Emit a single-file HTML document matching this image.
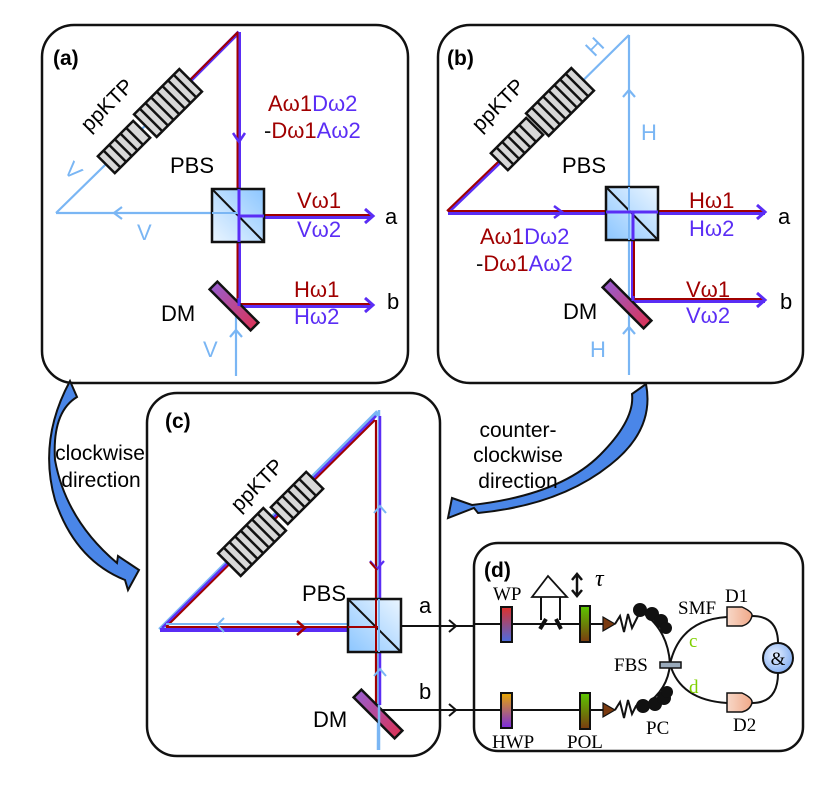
<!DOCTYPE html>
<html><head><meta charset="utf-8"><style>
html,body{margin:0;padding:0;background:#fff;}
svg{display:block;}
text{font-family:"Liberation Sans",sans-serif;}
.s{font-family:"Liberation Serif",serif;}
</style></head><body>
<svg width="831" height="786" viewBox="0 0 831 786" xmlns="http://www.w3.org/2000/svg">
<defs>
<linearGradient id="pbs" x1="1" y1="0" x2="0" y2="1"><stop offset="0" stop-color="#8cc6ff"/><stop offset="1" stop-color="#eaf5ff"/></linearGradient>
<linearGradient id="pbs2" x1="0" y1="1" x2="1" y2="0"><stop offset="0" stop-color="#8cc6ff"/><stop offset="1" stop-color="#eaf5ff"/></linearGradient>
<linearGradient id="dm" x1="0" y1="0" x2="1" y2="0"><stop offset="0" stop-color="#9a5ccc"/><stop offset="1" stop-color="#d8345a"/></linearGradient>
<linearGradient id="wp" x1="0" y1="0" x2="0" y2="1"><stop offset="0" stop-color="#e0302a"/><stop offset="1" stop-color="#4a6ce0"/></linearGradient>
<linearGradient id="hwp" x1="0" y1="0" x2="0" y2="1"><stop offset="0" stop-color="#e8a800"/><stop offset="1" stop-color="#7a2ae0"/></linearGradient>
<linearGradient id="pol" x1="0" y1="0" x2="0" y2="1"><stop offset="0" stop-color="#5cc800"/><stop offset="1" stop-color="#7a3a10"/></linearGradient>
<linearGradient id="det" x1="0" y1="0" x2="1" y2="0"><stop offset="0" stop-color="#f8d8c8"/><stop offset="1" stop-color="#f0a888"/></linearGradient>
<radialGradient id="amp" cx="0.4" cy="0.4" r="0.7"><stop offset="0" stop-color="#e8f0ff"/><stop offset="1" stop-color="#7aa8f0"/></radialGradient>
<g id="bigc"><rect x="-32" y="-16" width="64" height="32" fill="#d8d8d8" stroke="#111" stroke-width="2.5"/>
<g stroke="#111" stroke-width="2.5"><line x1="-24" y1="-16" x2="-24" y2="16"/><line x1="-16" y1="-16" x2="-16" y2="16"/><line x1="-8" y1="-16" x2="-8" y2="16"/><line x1="0" y1="-16" x2="0" y2="16"/><line x1="8" y1="-16" x2="8" y2="16"/><line x1="16" y1="-16" x2="16" y2="16"/><line x1="24" y1="-16" x2="24" y2="16"/></g></g>
<g id="smc"><rect x="-25" y="-12" width="50" height="24" fill="#d8d8d8" stroke="#111" stroke-width="2.5"/>
<g stroke="#111" stroke-width="2.5"><line x1="-17" y1="-12" x2="-17" y2="12"/><line x1="-9" y1="-12" x2="-9" y2="12"/><line x1="-1" y1="-12" x2="-1" y2="12"/><line x1="7" y1="-12" x2="7" y2="12"/><line x1="15" y1="-12" x2="15" y2="12"/></g></g>
<g id="dmr"><rect x="-29" y="-5.5" width="58" height="11" fill="url(#dm)" stroke="#111" stroke-width="2.5"/></g>
</defs>

<!-- ===== Panel (a) ===== -->
<rect x="42" y="25" width="366" height="358" rx="32" fill="#fff" stroke="#111" stroke-width="2.5"/>
<text x="53" y="65" font-size="21" font-weight="bold">(a)</text>
<g stroke="#7ab6f4" stroke-width="2.2" fill="none">
<line x1="150" y1="121" x2="56" y2="213"/>
<line x1="56" y1="213" x2="238" y2="213"/>
<polyline points="122,207 114,213 122,219"/>
<line x1="236" y1="308" x2="236" y2="376"/>
<polyline points="230,337 236,330 242,337"/>
</g>
<g fill="none">
<line x1="239" y1="32" x2="188" y2="83" stroke="#5a2df5" stroke-width="4"/>
<line x1="238" y1="32" x2="187" y2="83" stroke="#a00000" stroke-width="2"/>
<line x1="239" y1="32" x2="239" y2="305" stroke="#5a2df5" stroke-width="4"/>
<line x1="237.5" y1="32" x2="237.5" y2="305" stroke="#a00000" stroke-width="2"/>
<line x1="239" y1="217" x2="372" y2="217" stroke="#5a2df5" stroke-width="4"/>
<line x1="239" y1="215" x2="372" y2="215" stroke="#a00000" stroke-width="2"/>
<line x1="239" y1="306" x2="372" y2="306" stroke="#5a2df5" stroke-width="4"/>
<line x1="239" y1="304" x2="372" y2="304" stroke="#a00000" stroke-width="2"/>
<polyline points="233,133 239,142 245,133" stroke="#5a2df5" stroke-width="2.5"/>
<polyline points="365,209 373,216 365,223" stroke="#5a2df5" stroke-width="3"/>
<polyline points="365,298 373,305 365,312" stroke="#5a2df5" stroke-width="3"/>
</g>
<use href="#bigc" transform="translate(168,103) rotate(-45)"/>
<use href="#smc" transform="translate(124,147) rotate(-45)"/>
<text transform="translate(112,110) rotate(-45)" font-size="21" text-anchor="middle">ppKTP</text>
<rect x="212" y="189" width="52" height="53" fill="url(#pbs)" stroke="#111" stroke-width="2.5"/>
<line x1="212" y1="189" x2="264" y2="242" stroke="#111" stroke-width="2"/>
<line x1="239" y1="189" x2="239" y2="242" stroke="#5a2df5" stroke-width="3"/>
<line x1="239" y1="216" x2="264" y2="216" stroke="#5a2df5" stroke-width="3"/>
<line x1="212" y1="213" x2="238" y2="213" stroke="#7ab6f4" stroke-width="2"/>
<use href="#dmr" transform="translate(234,306) rotate(45)"/>
<line x1="239" y1="298" x2="239" y2="306" stroke="#5a2df5" stroke-width="3"/>
<g font-size="22">
<text x="268" y="111"><tspan fill="#a00000">Aω1</tspan><tspan fill="#5a2df5">Dω2</tspan></text>
<text x="264" y="138"><tspan fill="#111">-</tspan><tspan fill="#a00000">Dω1</tspan><tspan fill="#5a2df5">Aω2</tspan></text>
<text x="170" y="173">PBS</text>
<text x="297" y="208" fill="#a00000">Vω1</text>
<text x="297" y="237" fill="#5a2df5">Vω2</text>
<text x="385" y="224">a</text>
<text x="294" y="297" fill="#a00000">Hω1</text>
<text x="294" y="324" fill="#5a2df5">Hω2</text>
<text x="387" y="309">b</text>
<text x="161" y="321">DM</text>
<text x="137" y="240" fill="#7ab6f4">V</text>
<text x="203" y="357" fill="#7ab6f4">V</text>
<text transform="translate(68,176) rotate(45)" fill="#7ab6f4" text-anchor="middle">V</text>
</g>

<!-- ===== Panel (b) ===== -->
<rect x="438" y="25" width="365" height="358" rx="32" fill="#fff" stroke="#111" stroke-width="2.5"/>
<text x="447" y="65" font-size="21" font-weight="bold">(b)</text>
<g stroke="#7ab6f4" stroke-width="2.2" fill="none">
<line x1="629" y1="35" x2="540" y2="123"/>
<line x1="629" y1="35" x2="629" y2="375"/>
<polyline points="623,97 629,90 635,97"/>
<polyline points="623,334 629,327 635,334"/>
</g>
<g fill="none">
<line x1="500" y1="162" x2="448" y2="212" stroke="#5a2df5" stroke-width="4"/>
<line x1="498" y1="162" x2="447" y2="211" stroke="#a00000" stroke-width="2"/>
<line x1="448" y1="213" x2="765" y2="213" stroke="#5a2df5" stroke-width="4"/>
<line x1="448" y1="211" x2="765" y2="211" stroke="#a00000" stroke-width="2"/>
<polyline points="554,206 562,212 554,218" stroke="#5a2df5" stroke-width="2.5"/>
<polyline points="757,205 765,212 757,219" stroke="#5a2df5" stroke-width="3"/>
<line x1="633" y1="212" x2="633" y2="301" stroke="#5a2df5" stroke-width="4"/>
<line x1="634" y1="212" x2="634" y2="301" stroke="#a00000" stroke-width="2"/>
<line x1="633" y1="301" x2="765" y2="301" stroke="#5a2df5" stroke-width="4"/>
<line x1="633" y1="299" x2="765" y2="299" stroke="#a00000" stroke-width="2"/>
<polyline points="757,293 765,300 757,307" stroke="#5a2df5" stroke-width="3"/>
</g>
<use href="#bigc" transform="translate(560,102) rotate(-45)"/>
<use href="#smc" transform="translate(517,144) rotate(-45)"/>
<text transform="translate(503,110) rotate(-45)" font-size="21" text-anchor="middle">ppKTP</text>
<rect x="606" y="187" width="52" height="53" fill="url(#pbs2)" stroke="#111" stroke-width="2.5"/>
<line x1="606" y1="187" x2="658" y2="240" stroke="#111" stroke-width="2"/>
<line x1="629" y1="187" x2="629" y2="240" stroke="#7ab6f4" stroke-width="2"/>
<line x1="606" y1="212" x2="658" y2="212" stroke="#5a2df5" stroke-width="3"/>
<line x1="633" y1="212" x2="633" y2="240" stroke="#5a2df5" stroke-width="3"/>
<use href="#dmr" transform="translate(627,304) rotate(45)"/>
<line x1="633" y1="296" x2="633" y2="301" stroke="#5a2df5" stroke-width="3"/>
<g font-size="22">
<text x="562" y="173">PBS</text>
<text x="689" y="208" fill="#a00000">Hω1</text>
<text x="689" y="236" fill="#5a2df5">Hω2</text>
<text x="778" y="224">a</text>
<text x="480" y="244"><tspan fill="#a00000">Aω1</tspan><tspan fill="#5a2df5">Dω2</tspan></text>
<text x="476" y="271"><tspan fill="#111">-</tspan><tspan fill="#a00000">Dω1</tspan><tspan fill="#5a2df5">Aω2</tspan></text>
<text x="686" y="297" fill="#a00000">Vω1</text>
<text x="686" y="323" fill="#5a2df5">Vω2</text>
<text x="780" y="309">b</text>
<text x="563" y="319">DM</text>
<text x="641" y="140" fill="#7ab6f4">H</text>
<text x="590" y="357" fill="#7ab6f4">H</text>
<text transform="translate(600,52) rotate(-45)" fill="#7ab6f4" text-anchor="middle">H</text>
</g>

<!-- curved arrows -->
<path d="M 70,381 L 77,397 Q 52,412 55,460 Q 66,520 117,563 L 118,556 L 139,570 L 128,590 L 125,580 Q 75,560 55,500 Q 38,440 70,381 Z" fill="#4a86e8" stroke="#111" stroke-width="2"/>
<path d="M 632,394 L 646,384 Q 655,430 610,465 Q 560,505 478,513 L 474,508 L 448,518 L 452,498 L 472,505 Q 560,495 600,455 Q 635,420 632,394 Z" fill="#4a86e8" stroke="#111" stroke-width="2"/>
<g font-size="21" text-anchor="middle">
<text x="100" y="460">clockwise</text>
<text x="101" y="487">direction</text>
<text x="518" y="437">counter-</text>
<text x="518" y="462">clockwise</text>
<text x="518" y="488">direction</text>
</g>

<!-- ===== Panel (c) ===== -->
<rect x="147" y="393" width="293" height="363" rx="30" fill="#fff" stroke="#111" stroke-width="2.5"/>
<text x="165" y="428" font-size="21" font-weight="bold">(c)</text>
<g fill="none">
<line x1="379" y1="410" x2="378" y2="750" stroke="#7ab6f4" stroke-width="2.5"/>
<line x1="378" y1="412" x2="160" y2="630" stroke="#7ab6f4" stroke-width="5"/>
<line x1="376" y1="416" x2="162" y2="628" stroke="#5a2df5" stroke-width="2.5"/>
<line x1="375" y1="420" x2="166" y2="627" stroke="#a00000" stroke-width="2"/>
<line x1="160" y1="630" x2="378" y2="630" stroke="#5a2df5" stroke-width="4"/>
<line x1="166" y1="627" x2="378" y2="627" stroke="#a00000" stroke-width="2"/>
<line x1="166" y1="624" x2="378" y2="624" stroke="#7ab6f4" stroke-width="2"/>
<line x1="380" y1="416" x2="380" y2="705" stroke="#5a2df5" stroke-width="2.5"/>
<line x1="376" y1="420" x2="376" y2="705" stroke="#a00000" stroke-width="2.2"/>
<polyline points="370,561 377,569 384,561" stroke="#5a2df5" stroke-width="2.2"/>
<polyline points="370,562 377,570" stroke="#a00000" stroke-width="2"/>
<polyline points="297,621 305,628 297,635" stroke="#a00000" stroke-width="2.5"/>
<polyline points="224,618 217,625 224,632" stroke="#7ab6f4" stroke-width="2"/>
<polyline points="374,513 380,506 386,513" stroke="#7ab6f4" stroke-width="2"/>
<polyline points="374,676 380,669 386,676" stroke="#7ab6f4" stroke-width="2"/>
<line x1="378" y1="626" x2="505" y2="626" stroke="#111" stroke-width="2"/>
<polyline points="449,620 456,626 449,632" stroke="#111" stroke-width="2"/>
<line x1="380" y1="710" x2="505" y2="710" stroke="#111" stroke-width="2"/>
<polyline points="449,704 456,710 449,716" stroke="#111" stroke-width="2"/>
</g>
<use href="#bigc" transform="translate(252,542) rotate(-45)"/>
<use href="#smc" transform="translate(297,498) rotate(-45)"/>
<text transform="translate(262,490) rotate(-45)" font-size="21" text-anchor="middle">ppKTP</text>
<rect x="348" y="599" width="53" height="53" fill="url(#pbs2)" stroke="#111" stroke-width="2.5"/>
<line x1="348" y1="599" x2="401" y2="652" stroke="#111" stroke-width="2"/>
<line x1="376" y1="599" x2="376" y2="652" stroke="#a00000" stroke-width="2"/>
<line x1="379" y1="599" x2="379" y2="652" stroke="#7ab6f4" stroke-width="2"/>
<line x1="348" y1="627" x2="378" y2="627" stroke="#a00000" stroke-width="2"/>
<use href="#dmr" transform="translate(378,714) rotate(45)"/>
<line x1="379" y1="705" x2="379" y2="750" stroke="#7ab6f4" stroke-width="2.5"/>
<g font-size="22">
<text x="302" y="601">PBS</text>
<text x="313" y="727">DM</text>
<text x="419" y="613">a</text>
<text x="419" y="699">b</text>
</g>

<!-- ===== Panel (d) ===== -->
<rect x="474" y="543" width="329" height="208" rx="24" fill="#fff" stroke="#111" stroke-width="2.5"/>
<text x="484" y="577" font-size="21" font-weight="bold">(d)</text>
<g stroke="#111" stroke-width="2" fill="none">
<line x1="474" y1="624" x2="605" y2="624"/>
<line x1="474" y1="710" x2="605" y2="710"/>
<polygon points="532,597 548,576 567,597" stroke-width="1.8"/>
<line x1="541" y1="597" x2="541" y2="620"/>
<line x1="560" y1="597" x2="560" y2="620"/>
<line x1="540" y1="629" x2="546" y2="619" stroke-width="4"/>
<line x1="556" y1="619" x2="561" y2="629" stroke-width="4"/>
<line x1="577" y1="575" x2="577" y2="595" stroke-width="2.5"/>
<polyline points="572,580 577,574 582,580" stroke-width="2.5"/>
<polyline points="572,590 577,596 582,590" stroke-width="2.5"/>
<polyline points="615,624 620,616 624,632 628,614 632,628 636,620 640,612"/>
<polyline points="615,710 620,702 624,718 628,700 632,714 636,706 640,702"/>
<path d="M 642,612 Q 668,630 670,664 Q 668,690 645,705"/>
<path d="M 670,664 Q 680,620 727,617"/>
<path d="M 670,664 Q 680,700 727,703"/>
<path d="M 752,616 Q 778,616 778,643"/>
<path d="M 752,703 Q 778,703 778,673"/>
</g>
<rect x="501" y="607" width="11" height="35" fill="url(#wp)" stroke="#111" stroke-width="2"/>
<rect x="501" y="693" width="11" height="35" fill="url(#hwp)" stroke="#111" stroke-width="2"/>
<rect x="580" y="606" width="10" height="36" fill="url(#pol)" stroke="#111" stroke-width="2"/>
<rect x="580" y="693" width="10" height="36" fill="url(#pol)" stroke="#111" stroke-width="2"/>
<polygon points="603,617 615,624 603,631" fill="#7a3a10" stroke="#111" stroke-width="1.2"/>
<polygon points="603,703 615,710 603,717" fill="#7a3a10" stroke="#111" stroke-width="1.2"/>
<g fill="#111">
<circle cx="640" cy="610" r="7"/><circle cx="652" cy="614" r="7"/><circle cx="661" cy="621" r="7"/><circle cx="666" cy="628" r="6"/>
<circle cx="643" cy="706" r="7"/><circle cx="655" cy="704" r="7"/><circle cx="664" cy="698" r="7"/><circle cx="667" cy="692" r="6"/>
</g>
<rect x="660" y="662" width="21" height="6" fill="#9ab" stroke="#111" stroke-width="1.5"/>
<path d="M 727,607 L 742,607 Q 753,612 752,616 Q 750,624 742,626 L 727,626 Z" fill="url(#det)" stroke="#111" stroke-width="1.5"/>
<path d="M 727,693 L 742,693 Q 753,698 752,703 Q 750,710 742,712 L 727,712 Z" fill="url(#det)" stroke="#111" stroke-width="1.5"/>
<circle cx="778" cy="658" r="15" fill="url(#amp)" stroke="#111" stroke-width="2"/>
<g font-size="19">
<text x="778" y="665" text-anchor="middle" class="s">&amp;</text>
<text x="493" y="600" class="s">WP</text>
<text x="595" y="586" font-size="24" font-style="italic" class="s">τ</text>
<text x="678" y="614" class="s">SMF</text>
<text x="725" y="602" class="s">D1</text>
<text x="689" y="647" fill="#7fd000" class="s">c</text>
<text x="614" y="671" class="s">FBS</text>
<text x="689" y="693" fill="#7fd000" class="s">d</text>
<text x="492" y="748" class="s">HWP</text>
<text x="567" y="748" class="s">POL</text>
<text x="646" y="734" class="s">PC</text>
<text x="733" y="731" class="s">D2</text>
</g>
</svg>
</body></html>
